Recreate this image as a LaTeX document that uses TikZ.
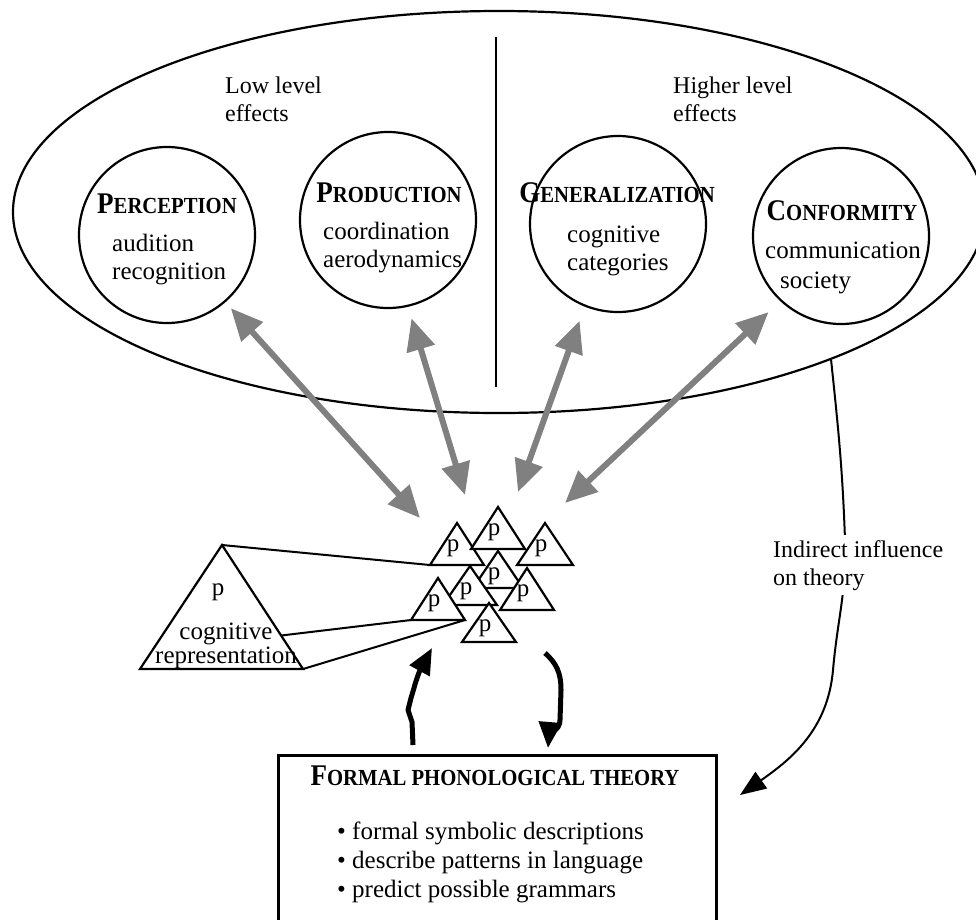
\documentclass[tikz,border=0pt]{standalone}
\usepackage{fontspec}
\setmainfont{Liberation Serif}
\newfontfamily\hdfont{Liberation Serif}[FakeStretch=0.9]
\usetikzlibrary{arrows.meta,shapes.geometric,calc}
\newcommand\hsc[2]{{\hdfont\bfseries\fontsize{30}{30}\selectfont#1\fontsize{23}{23}\selectfont#2}}
\newcommand\ptri[5]{%
  \coordinate (#1-a) at (#2,#3);
  \coordinate (#1-l) at ({#2-#4},{#3+#5});
  \coordinate (#1-r) at ({#2+#4},{#3+#5});
  \draw[tri] (#1-a) -- (#1-r) -- (#1-l) -- cycle;
  \node[plabel] (#1) at ({#2-4},{#3+28}) {p};}
\begin{document}
\begin{tikzpicture}[x=1pt,y=-1pt,
  txt/.style={font=\fontsize{25}{28}\selectfont, inner sep=0pt, align=left},
  lbl/.style={font=\fontsize{24}{28}\selectfont, inner sep=0pt, align=left},
  hd/.style={inner sep=0pt},
  circ/.style={circle, draw, line width=2.2pt, minimum size=176pt, inner sep=0pt},
  tri/.style={draw, fill=white, line width=2.2pt, line join=miter},
  plabel/.style={font=\fontsize{25}{25}\selectfont, inner sep=0pt, anchor=base},
  garrow/.style={draw=gray, line width=6pt, {Triangle[length=32pt,width=28pt]}-{Triangle[length=32pt,width=28pt]}},
  barrow/.style={line width=5pt, line join=round, -{Triangle[length=26pt,width=22pt]}},
  thinline/.style={line width=2pt}]
\useasboundingbox (0,0) rectangle (976,919);

% outer ellipse and divider
\node[draw, ellipse, line width=2.2pt, minimum width=972pt, minimum height=402pt, inner sep=0pt] (outer) at (499,212) {};
\draw[thinline] (496,37) -- (496,387);

% multi-line nodes: anchor base = baseline of the last line
\node[lbl, anchor=base west] (low) at (225,121) {Low level\\effects};
\node[lbl, anchor=base west] (high) at (673,121) {Higher level\\effects};

% circles
\node[circ] (perc) at (167,235) {};
\node[circ] (prod) at (388,220) {};
\node[circ] (gen) at (618,224) {};
\node[circ] (conf) at (841,236) {};

\node[hd, anchor=base] (perch) at (167,213) {\hsc{P}{ERCEPTION}};
\node[txt, anchor=base west] (perct) at (112,279) {audition\\recognition};
\node[hd, anchor=base] (prodh) at (389,202) {\hsc{P}{RODUCTION}};
\node[txt, anchor=base west] (prodt) at (323,267) {coordination\\aerodynamics};
\node[hd, anchor=base] (genh) at (617,202) {\hsc{G}{ENERALIZATION}};
\node[txt, anchor=base west] (gent) at (567,270) {cognitive\\categories};
\node[hd, anchor=base] (confh) at (842,220) {\hsc{C}{ONFORMITY}};
\node[txt, anchor=base west, font=\fontsize{25}{30}\selectfont] (conft) at (765,288) {communication\\\hspace*{15pt}society};

% gray double arrows
\coordinate (g1) at (420,518);
\coordinate (g2) at (465,495);
\coordinate (g3) at (518,492);
\coordinate (g4) at (565,503);
\draw[garrow, shorten <=8pt] (perc.-49) -- (g1);
\draw[garrow, shorten <=12pt] (prod.-77) -- (g2);
\draw[garrow, shorten <=15pt] (gen.-112) -- (g3);
\draw[garrow, shorten <=16pt] (conf.-133) -- (g4);

% cluster of small triangles
\ptri{t1}{457}{523}{27}{42}
\ptri{t3}{545}{523}{28}{42}
\ptri{t2}{498}{507}{27}{42}
\ptri{t4}{498}{551}{25}{37}
\ptri{t6}{527}{568}{27}{42}
\ptri{t5}{470}{566}{27}{39}
\ptri{t7}{438}{578}{27}{42}
\ptri{t8}{489}{603}{27}{39}

% big triangle
\coordinate (bt-a) at (222,545);
\coordinate (bt-l) at (140,669);
\coordinate (bt-r) at (303,669);
\draw[tri] (bt-a) -- (bt-r) -- (bt-l) -- cycle;
\node[plabel] (btp) at (218,595) {p};
\node[txt, align=center, anchor=base, font=\fontsize{25}{24}\selectfont] (btt) at (226,663) {cognitive\\representation};

\draw[thinline] (bt-a) -- (t1-l);
\draw[thinline] ($(bt-a)!0.73!(bt-r)$) -- (t7-l);
\draw[thinline] (bt-r) -- (t7-r);

% formal theory box
\node[draw, line width=3pt, minimum width=438pt, minimum height=220pt, inner sep=0pt, anchor=north west] (box) at (277,754) {};
\node[hd, anchor=base] (boxh) at (495,785) {\hsc{F}{ORMAL PHONOLOGICAL THEORY}};
\node[txt, anchor=base west, font=\fontsize{25}{29}\selectfont] (boxt) at (337,897) {\textbullet\ formal symbolic descriptions\\\textbullet\ describe patterns in language\\\textbullet\ predict possible grammars};

% black feedback arrows
\coordinate (lb) at (413,745);
\coordinate (lt) at (432,648);
\coordinate (rb) at (545,653);
\coordinate (rt) at (548,748);
\draw[barrow] (lb) -- (412,722) -- (408,710) -- (411,698) -- (414,688) .. controls (416,680) and (420,670) .. (lt);
\draw[barrow] (rb) .. controls (556,663) and (561,672) .. (561,690) -- (560,720) .. controls (560,730) and (549,736) .. (rt);

% indirect influence
\coordinate (itip) at (740,795);
\draw[line width=2pt, -{Triangle[length=26pt,width=20pt]}] (outer.-24) to[out=-84,in=92] (845,540) to[out=-88,in=85] (833,670) to[out=-95,in=35] (itip);
\node[lbl, fill=white, inner xsep=2pt, inner ysep=5pt, anchor=base west] (infl) at (771,585) {Indirect influence\\on theory};
\end{tikzpicture}
\end{document}
